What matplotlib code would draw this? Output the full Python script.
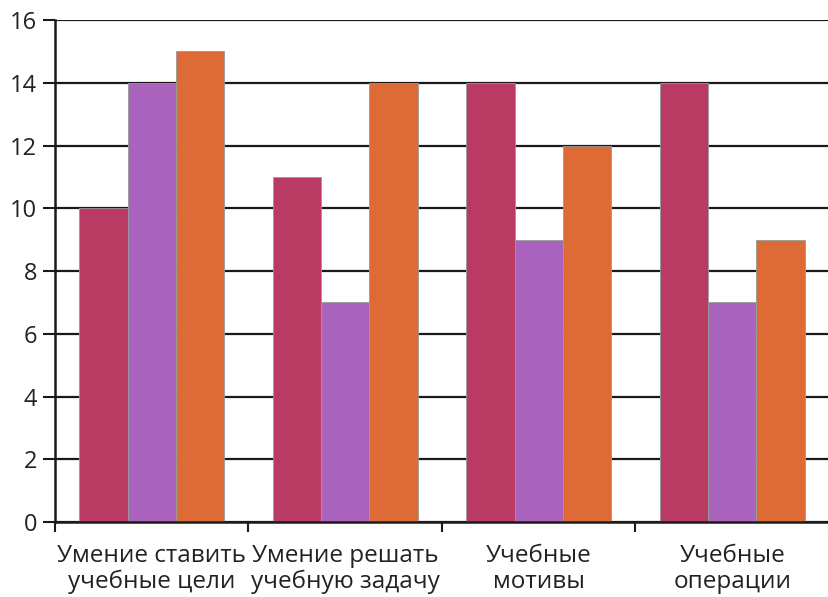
import matplotlib
matplotlib.use("Agg")
import matplotlib.pyplot as plt
import numpy as np

# data
categories = ["Умение ставить\nучебные цели", "Умение решать\nучебную задачу",
              "Учебные\nмотивы", "Учебные\nоперации"]
series_1 = [10, 11, 14, 14]
series_2 = [14, 7, 9, 7]
series_3 = [15, 14, 12, 9]
y_ticks = [0, 2, 4, 6, 8, 10, 12, 14, 16]

colors = ["#B93B64", "#A963BD", "#DE6B36"]

plt.rcParams['font.family'] = ['Open Sans', 'DejaVu Sans']

fig = plt.figure(figsize=(8.29, 5.97), dpi=100)
ax = fig.add_axes([0.0663, 0.1256, 0.9337, 0.8409])

x = np.arange(len(categories))
width = 0.25
for i, (vals, col) in enumerate(zip([series_1, series_2, series_3], colors)):
    ax.bar(x + (i - 1) * width, vals, width, color=col, edgecolor="#9a9a9a",
           linewidth=0.6, zorder=3)

ax.set_ylim(0, 16)
ax.set_xlim(-0.5, 3.44)
ax.set_yticks(y_ticks)
ax.yaxis.grid(True, color="#1a1a1a", linewidth=1.6, zorder=0)
ax.set_axisbelow(True)

# category labels centered, ticks at group boundaries
ax.set_xticks(x)
ax.set_xticklabels(categories, fontsize=17.5, color="#222222", linespacing=1.1)
ax.tick_params(axis="x", length=0, pad=16)
ax.set_xticks(np.arange(len(categories) + 1) - 0.5, minor=True)
ax.tick_params(axis="x", which="minor", length=7, width=1.5, direction="out",
               color="#1a1a1a")
ax.tick_params(axis="y", length=9, width=1.5, color="#1a1a1a",
               labelsize=17, labelcolor="#222222", pad=4)

for s in ["top", "right"]:
    ax.spines[s].set_visible(False)
for s in ["left", "bottom"]:
    ax.spines[s].set_linewidth(1.8)
    ax.spines[s].set_color("#1a1a1a")
    ax.spines[s].set_zorder(4)

fig.savefig("out.png", dpi=100)
